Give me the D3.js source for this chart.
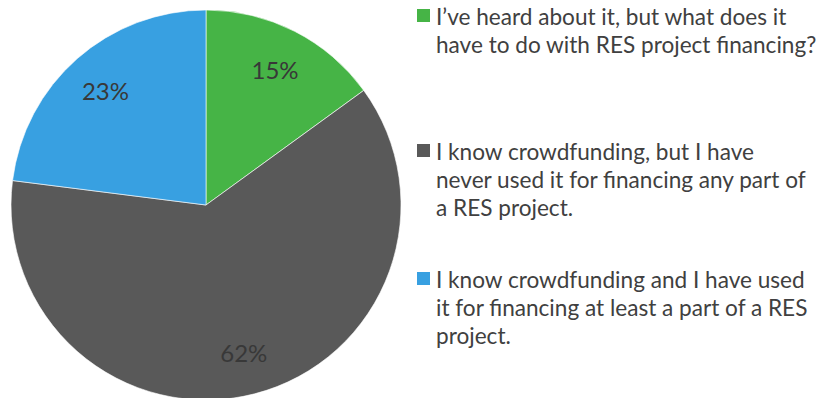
<!DOCTYPE html>
<html>
<head>
<meta charset="utf-8">
<script src="https://cdn.jsdelivr.net/npm/d3@7"></script>
<style>
  html, body { margin: 0; padding: 0; background: #ffffff; }
  svg { display: block; }
</style>
</head>
<body>
<svg id="chart" width="819" height="398"></svg>
<script>
// Survey answers about crowdfunding and RES project financing
const categories = [
  "I\u2019ve heard about it, but what does it have to do with RES project financing?",
  "I know crowdfunding, but I have never used it for financing any part of a RES project.",
  "I know crowdfunding and I have used it for financing at least a part of a RES project."
];
const shares = [15, 62, 23];
const labels = ["15%", "62%", "23%"];
const colors = ["#46b446", "#595959", "#38a0e1"];
// Wrapped legend lines, one array per entry
const legendLines = [
  ["I\u2019ve heard about it, but what does it", "have to do with RES project financing?"],
  ["I know crowdfunding, but I have", "never used it for financing any part of", "a RES project."],
  ["I know crowdfunding and I have used", "it for financing at least a part of a RES", "project."]
];

const svg = d3.select("#chart");
const cx = 206, cy = 205, radius = 195;

const data = categories.map((c, i) => ({ name: c, value: shares[i], label: labels[i], color: colors[i] }));

const pie = d3.pie().value(d => d.value).sort(null);
const arcs = pie(data);
const arc = d3.arc().innerRadius(0).outerRadius(radius);
const labelArc = d3.arc().innerRadius(152).outerRadius(152);

const g = svg.append("g").attr("transform", `translate(${cx},${cy})`);

g.selectAll("path.slice")
  .data(arcs)
  .join("path")
  .attr("class", "slice")
  .attr("d", arc)
  .attr("fill", d => d.data.color)
  .attr("stroke", "#ffffff")
  .attr("stroke-width", 0.6);

g.selectAll("text.pct")
  .data(arcs)
  .join("text")
  .attr("class", "pct")
  .attr("transform", d => `translate(${labelArc.centroid(d)})`)
  .attr("text-anchor", "middle")
  .attr("dominant-baseline", "central")
  .style("font-family", "Lato, 'Open Sans', sans-serif")
  .style("font-size", "24px")
  .style("fill", "#383838")
  .text(d => d.data.label);

// Legend
const legendX = 417, textX = 436, lineH = 28;
const firstBaselines = [25, 160, 288];

const legend = svg.append("g");
const items = legend.selectAll("g.item")
  .data(data)
  .join("g")
  .attr("class", "item");

items.append("rect")
  .attr("x", legendX)
  .attr("y", (d, i) => firstBaselines[i] - 16)
  .attr("width", 13)
  .attr("height", 13)
  .attr("fill", d => d.color);

const txt = items.append("text")
  .attr("x", textX)
  .attr("y", (d, i) => firstBaselines[i])
  .style("font-family", "Lato, 'Open Sans', sans-serif")
  .style("font-size", "22.6px")
  .style("fill", "#404040");

txt.each(function (d, i) {
  const t = d3.select(this);
  legendLines[i].forEach((line, k) => {
    t.append("tspan")
      .attr("x", textX)
      .attr("y", firstBaselines[i] + k * lineH)
      .text(line);
  });
});
</script>
</body>
</html>
